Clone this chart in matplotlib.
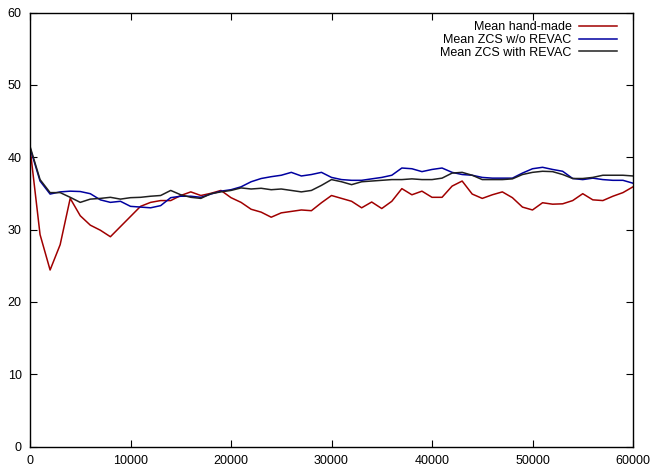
import numpy as np
import matplotlib
matplotlib.use("Agg")
from matplotlib import pyplot as plt

plt.rcParams['font.family'] = ['Liberation Sans', 'DejaVu Sans']

# x positions, one sample every 1000 evaluations
steps = np.arange(0, 61000, 1000)

hand_made = [41.3, 29.3, 24.4, 27.9, 34.3, 31.9, 30.6, 29.9, 29.0, 30.4,
             31.8, 33.2, 33.75, 34.0, 34.0, 34.7, 35.2, 34.7, 35.0, 35.4,
             34.4, 33.75, 32.8, 32.4, 31.7, 32.3, 32.5, 32.7, 32.6, 33.7,
             34.7, 34.3, 33.9, 33.0, 33.8, 32.9, 33.9, 35.65, 34.8, 35.3,
             34.45, 34.45, 36.0, 36.7, 34.9, 34.3, 34.8, 35.2, 34.4, 33.1,
             32.7, 33.7, 33.5, 33.55, 34.0, 34.95, 34.1, 34.0, 34.6, 35.1,
             35.9]

zcs_no_revac = [41.3, 36.7, 34.9, 35.2, 35.3, 35.25, 34.95, 34.1, 33.75, 33.9,
                33.2, 33.1, 33.0, 33.3, 34.4, 34.6, 34.6, 34.45, 34.9, 35.3,
                35.5, 35.9, 36.6, 37.05, 37.3, 37.5, 37.9, 37.4, 37.6, 37.9,
                37.2, 36.9, 36.8, 36.8, 37.0, 37.2, 37.5, 38.5, 38.4, 38.0,
                38.3, 38.5, 37.9, 37.6, 37.5, 37.2, 37.1, 37.1, 37.1, 37.8,
                38.4, 38.6, 38.3, 38.05, 37.05, 36.9, 37.1, 36.9, 36.8, 36.8,
                36.4]

zcs_revac = [41.5, 36.9, 35.1, 35.1, 34.45, 33.75, 34.2, 34.3, 34.45, 34.2,
             34.4, 34.45, 34.6, 34.7, 35.4, 34.8, 34.45, 34.3, 34.95, 35.2,
             35.4, 35.75, 35.6, 35.7, 35.5, 35.6, 35.4, 35.2, 35.4, 36.1,
             36.9, 36.6, 36.2, 36.6, 36.7, 36.8, 36.9, 36.9, 37.0, 36.9,
             36.9, 37.1, 37.8, 37.9, 37.5, 36.9, 36.9, 36.9, 37.0, 37.6,
             37.9, 38.05, 38.0, 37.6, 37.05, 37.05, 37.2, 37.5, 37.5, 37.5,
             37.4]

fig = plt.figure(figsize=(6.55, 4.68), dpi=100)
ax = fig.add_axes([30 / 655, 1 - 446.5 / 468, 603 / 655, 434 / 468])

ax.plot(steps, hand_made, color='#a00000', lw=1.1, label='Mean hand-made')
ax.plot(steps, zcs_no_revac, color='#0000a0', lw=1.1, label='Mean ZCS w/o REVAC')
ax.plot(steps, zcs_revac, color='#202020', lw=1.1, label='Mean ZCS with REVAC')

ax.set_xlim(0, 60000)
ax.set_ylim(0, 60)
ax.set_xticks(np.arange(0, 60001, 10000))
ax.set_yticks(np.arange(0, 61, 10))
ax.tick_params(direction='in', length=5, width=0.8, top=True, right=True,
               labelsize=9, pad=6)
for sp in ax.spines.values():
    sp.set_linewidth(1.0)

ax.legend(loc='upper right', bbox_to_anchor=(1 - 7 / 603, 1), frameon=False,
          markerfirst=False, fontsize=9, handlelength=3.1, handletextpad=0.55,
          labelspacing=0.05, borderaxespad=0.3)

fig.savefig('out.png', dpi=100)
